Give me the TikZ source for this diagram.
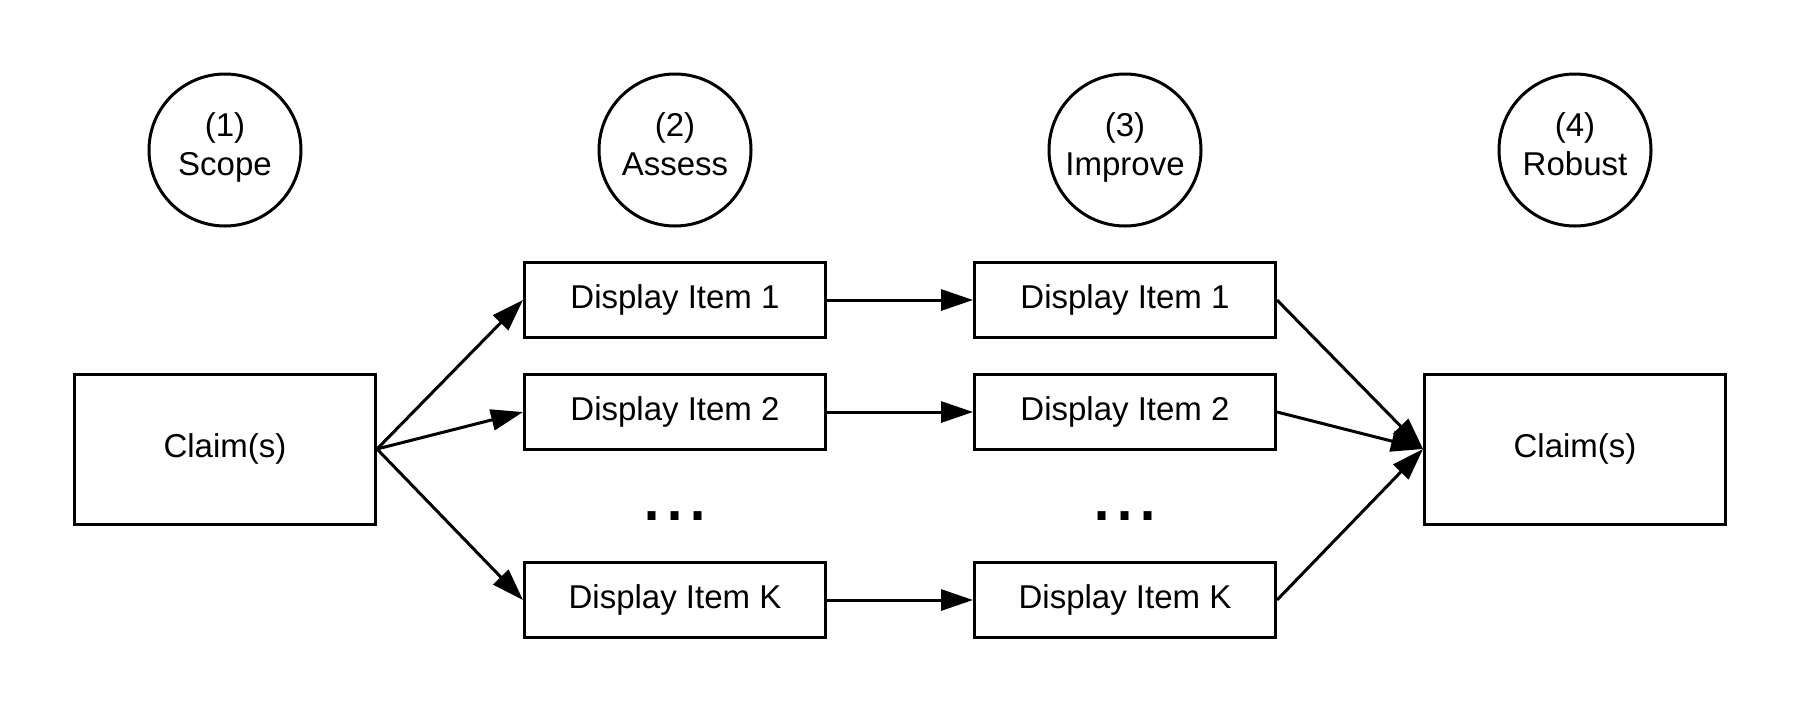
\documentclass[tikz,border=0pt]{standalone}
\usepackage{fontspec}
\setmainfont{Liberation Sans}
\usetikzlibrary{arrows.meta}

\begin{document}
\begin{tikzpicture}
[x=0.5pt,y=-0.5pt,
 stepDecorate/.style={shape=circle,draw,line width=1.5pt,minimum size=76pt,inner sep=0pt,
   align=center,font=\fontsize{16.5}{19.5}\selectfont,execute at end node=\strut},
 claimDecorate/.style={shape=rectangle,draw,line width=1.5pt,minimum width=150.5pt,
   minimum height=75pt,font=\fontsize{16.5}{19.5}\selectfont},
 itemDecorate/.style={shape=rectangle,draw,line width=1.5pt,minimum width=150.5pt,
   minimum height=37.5pt,inner sep=0pt,font=\fontsize{16.5}{19.5}\selectfont},
 dotsDecorate/.style={anchor=base,inner sep=0pt,font=\fontsize{41.5}{41.5}\selectfont},
 lineDecorate/.style={-{Triangle[length=16pt,width=10.5pt]},line width=1.5pt}]
\useasboundingbox (0,0) rectangle (1800,713);
%% step circles
\foreach \nodename/\x/\txt in {s1/225/{(1)\\Scope}, s2/675/{(2)\\Assess},
                               s3/1125/{(3)\\Improve}, s4/1575/{(4)\\Robust}} {
  \node (\nodename) at (\x,150) [stepDecorate] {\txt};
}
%% claims
\node (claimL) at (225,449) [claimDecorate] {Claim(s)};
\node (claimR) at (1575,449) [claimDecorate] {Claim(s)};
%% display items
\foreach \col/\x in {a/675, b/1125} {
  \foreach \row/\y/\lbl in {1/300/1, 2/412/2, k/600/K} {
    \node (\col\row) at (\x,\y) [itemDecorate] {Display Item \lbl};
  }
  \node (dots\col) at (\x,520) [dotsDecorate] {...};
}
%% arrows
\path
\foreach \startnode/\endnode in {claimL.east/a1.west, claimL.east/a2.west, claimL.east/ak.west,
                                 a1.east/b1.west, a2.east/b2.west, ak.east/bk.west,
                                 b1.east/claimR.west, b2.east/claimR.west, bk.east/claimR.west} {
  (\startnode) edge[lineDecorate] (\endnode)
};
\end{tikzpicture}
\end{document}
